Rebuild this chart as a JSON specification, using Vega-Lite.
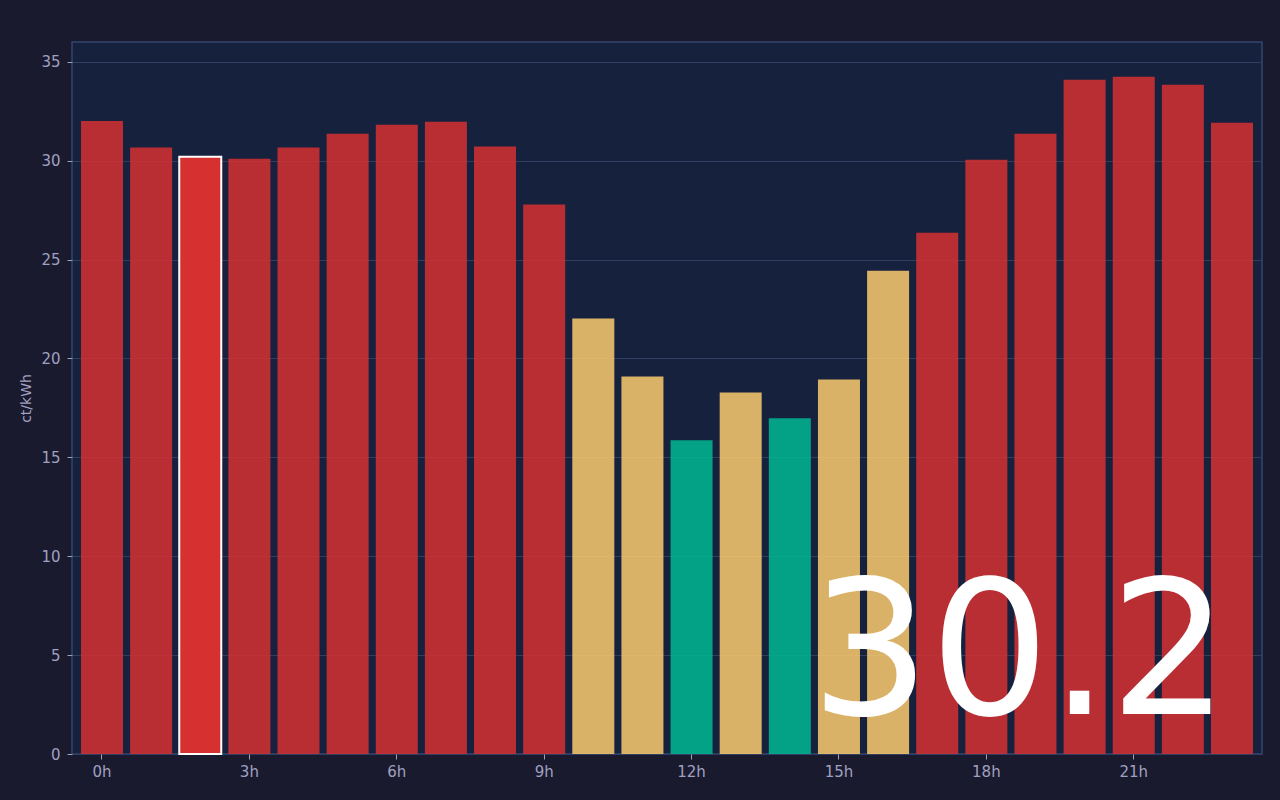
{
  "$schema": "https://vega.github.io/schema/vega-lite/v6.json",
  "description": "Hourly electricity price (ct/kWh) with current hour highlighted",
  "autosize": {"type": "none"},
  "width": 1190,
  "height": 712,
  "padding": {"left": 72, "top": 42, "right": 18, "bottom": 46},
  "background": "#1a1a2e",
  "data": {
    "values": [
      {"hour": 0, "price": 32.0, "level": "high", "current": false},
      {"hour": 1, "price": 30.66, "level": "high", "current": false},
      {"hour": 2, "price": 30.2, "level": "high", "current": true},
      {"hour": 3, "price": 30.1, "level": "high", "current": false},
      {"hour": 4, "price": 30.66, "level": "high", "current": false},
      {"hour": 5, "price": 31.36, "level": "high", "current": false},
      {"hour": 6, "price": 31.82, "level": "high", "current": false},
      {"hour": 7, "price": 31.97, "level": "high", "current": false},
      {"hour": 8, "price": 30.71, "level": "high", "current": false},
      {"hour": 9, "price": 27.78, "level": "high", "current": false},
      {"hour": 10, "price": 22.02, "level": "mid", "current": false},
      {"hour": 11, "price": 19.09, "level": "mid", "current": false},
      {"hour": 12, "price": 15.86, "level": "low", "current": false},
      {"hour": 13, "price": 18.28, "level": "mid", "current": false},
      {"hour": 14, "price": 16.97, "level": "low", "current": false},
      {"hour": 15, "price": 18.94, "level": "mid", "current": false},
      {"hour": 16, "price": 24.44, "level": "mid", "current": false},
      {"hour": 17, "price": 26.36, "level": "high", "current": false},
      {"hour": 18, "price": 30.05, "level": "high", "current": false},
      {"hour": 19, "price": 31.36, "level": "high", "current": false},
      {"hour": 20, "price": 34.09, "level": "high", "current": false},
      {"hour": 21, "price": 34.24, "level": "high", "current": false},
      {"hour": 22, "price": 33.84, "level": "high", "current": false},
      {"hour": 23, "price": 31.92, "level": "high", "current": false}
    ]
  },
  "encoding": {
    "x": {
      "field": "hour",
      "type": "ordinal",
      "scale": {"paddingInner": 0.145, "paddingOuter": 0.183},
      "axis": {
        "title": null,
        "values": [0, 3, 6, 9, 12, 15, 18, 21],
        "labelExpr": "datum.value + 'h'",
        "labelAngle": 0,
        "grid": false
      }
    },
    "y": {
      "field": "price",
      "type": "quantitative",
      "scale": {"domain": [0, 36], "nice": false},
      "axis": {"title": "ct/kWh", "values": [0, 5, 10, 15, 20, 25, 30, 35], "labelPadding": 7}
    }
  },
  "layer": [
    {
      "mark": {"type": "bar"},
      "encoding": {
        "color": {
          "field": "level",
          "type": "nominal",
          "scale": {"domain": ["high", "mid", "low"], "range": ["#d63031", "#fdcb6e", "#00b894"]},
          "legend": null
        },
        "opacity": {"condition": {"test": "datum.current", "value": 1}, "value": 0.85},
        "stroke": {"condition": {"test": "datum.current", "value": "#ffffff"}, "value": null},
        "strokeWidth": {"condition": {"test": "datum.current", "value": 2}, "value": 0}
      }
    },
    {
      "transform": [{"filter": "datum.current"}],
      "mark": {
        "type": "text",
        "font": "DejaVu Sans",
        "fontSize": 188,
        "color": "#ffffff",
        "align": "right",
        "baseline": "alphabetic",
        "dx": -3
      },
      "encoding": {
        "x": {"datum": 23},
        "y": {"datum": 2},
        "text": {"field": "price", "type": "quantitative", "format": ".1f"}
      }
    }
  ],
  "config": {
    "font": "DejaVu Sans",
    "view": {"fill": "#16213e", "stroke": "#34466e", "strokeWidth": 1.5},
    "axis": {
      "domain": false,
      "labelColor": "#a0a0c0",
      "labelFontSize": 15,
      "labelFont": "DejaVu Sans",
      "titleColor": "#a0a0c0",
      "titleFontSize": 14,
      "titleFontWeight": "normal",
      "titleFont": "DejaVu Sans",
      "tickColor": "#a0a0c0",
      "tickSize": 5,
      "labelPadding": 5,
      "gridColor": "#2f3d60",
      "gridWidth": 1,
      "zindex": 1
    },
    "axisY": {"titlePadding": 7}
  }
}
